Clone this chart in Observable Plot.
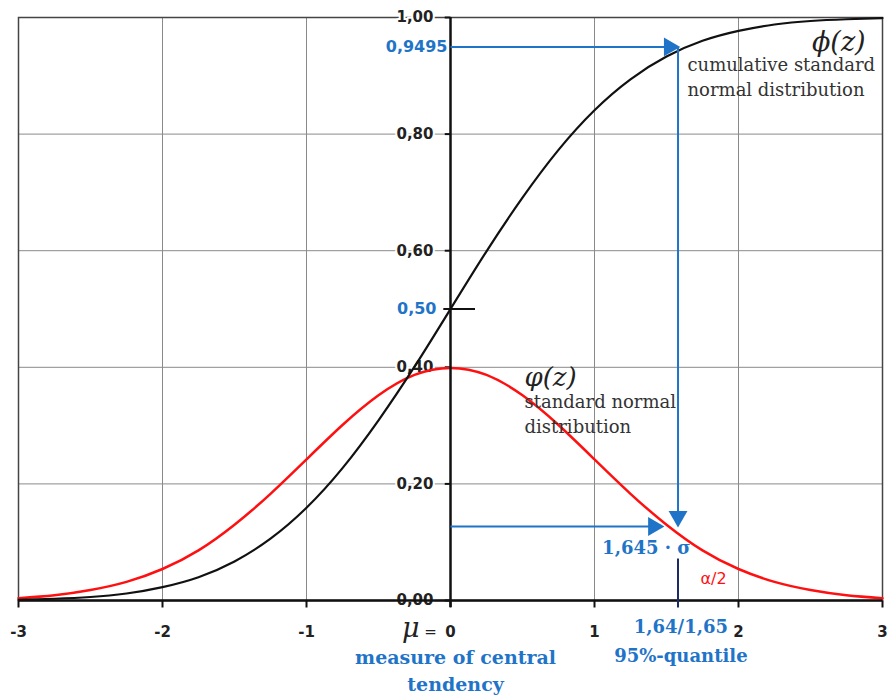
<!DOCTYPE html>
<html><head><meta charset="utf-8">
<script src="https://cdn.jsdelivr.net/npm/d3@7"></script>
<script src="https://cdn.jsdelivr.net/npm/@observablehq/plot@0.6"></script>
<style>body{margin:0;background:#fff}</style>
</head><body><div id="chart"></div>
<script>
// standard normal curves
const z   = [-3,-2.75,-2.5,-2.25,-2,-1.75,-1.5,-1.25,-1,-0.75,-0.5,-0.25,0,0.25,0.5,0.75,1,1.25,1.5,1.75,2,2.25,2.5,2.75,3];
const pdf = [0.004,0.009,0.018,0.032,0.054,0.086,0.130,0.183,0.242,0.301,0.352,0.387,0.399,0.387,0.352,0.301,0.242,0.183,0.130,0.086,0.054,0.032,0.018,0.009,0.004];
const cdf = [0.001,0.003,0.006,0.012,0.023,0.040,0.067,0.106,0.159,0.227,0.309,0.401,0.500,0.599,0.691,0.773,0.841,0.894,0.933,0.960,0.977,0.988,0.994,0.997,0.999];

const xTicks = [-3,-2,-1,0,1,2,3];
const xTickLabels = ["-3","-2","-1","0","1","2","3"];
const yTicks = [0,0.2,0.4,0.6,0.8,1.0];
const yTickLabels = ["0,00","0,20","0,40","0,60","0,80","1,00"];

// annotation values
const quantileZ = 1.58;       // where the quantile marker is drawn
const cdfAtQuantile = 0.9495;
const pdfAtQuantile = 0.127;
const median = 0.5;

const BLUE = "#1f74c8";
const pts = z.map((v,i)=>({z:v, pdf:pdf[i], cdf:cdf[i]}));
const serif = "'DejaVu Serif', serif";
const sans = "'DejaVu Sans', sans-serif";

const chart = Plot.plot({
  width: 889, height: 699,
  marginLeft: 18, marginRight: 7, marginTop: 17, marginBottom: 99,
  x: {domain: [-3, 3], axis: null},
  y: {domain: [0, 1], axis: null},
  style: {fontFamily: sans, background: "#fff"},
  marks: [
    Plot.gridX(xTicks, {stroke: "#8a8a8a", strokeOpacity: 1, strokeWidth: 1}),
    Plot.gridY(yTicks.slice(1), {stroke: "#8a8a8a", strokeOpacity: 1, strokeWidth: 1}),
    Plot.frame({stroke: "#444", strokeWidth: 1.5}),
    // y tick labels with white halo
    Plot.text(yTicks, {x: () => 0, y: d => d, text: (d,i) => yTickLabels[i], dx: -17, textAnchor: "end",
      lineAnchor: "middle", fontSize: 15, fontWeight: "bold", fill: "#222", stroke: "white", strokeWidth: 4}),
    Plot.link(yTicks, {x1: () => -0.04, x2: () => 0, y1: d => d, y2: d => d, stroke: "#111", strokeWidth: 2}),
    // curves
    Plot.line(pts, {x: "z", y: "pdf", stroke: "#ff1010", strokeWidth: 2.5, curve: "natural"}),
    Plot.line(pts, {x: "z", y: "cdf", stroke: "#111", strokeWidth: 2.2, curve: "natural"}),
    // axes lines
    Plot.ruleY([0], {stroke: "#111", strokeWidth: 2.5}),
    Plot.ruleX([0], {y1: -0.012, y2: 1, stroke: "#111", strokeWidth: 2.5}),
    Plot.link(xTicks, {x1: d => d, x2: d => d, y1: () => 0, y2: () => -0.012, stroke: "#111", strokeWidth: 2}),
    // x tick labels (0 is part of "μ = 0")
    Plot.text(xTicks, {x: d => d, y: () => 0, text: (d,i) => xTickLabels[i], dy: 36, lineAnchor: "bottom",
      fontSize: 15, fontWeight: "bold", fill: "#222"}),
    Plot.text(["μ"], {x: () => 0, y: () => 0, text: d => d, dx: -31, dy: 36, textAnchor: "end", lineAnchor: "bottom",
      fontFamily: serif, fontStyle: "italic", fontSize: 27, fill: "#222"}),
    Plot.text(["="], {x: () => 0, y: () => 0, text: d => d, dx: -20, dy: 36, lineAnchor: "bottom", fontSize: 15, fill: "#222"}),
    // blue annotation lines
    Plot.link([cdfAtQuantile], {x1: () => 0, x2: () => quantileZ - 0.04, y1: d => d, y2: d => d, stroke: BLUE, strokeWidth: 2}),
    Plot.dot([cdfAtQuantile], {x: () => quantileZ - 0.06, y: d => d, symbol: "triangle", r: 7, rotate: 90, fill: BLUE}),
    Plot.link([pdfAtQuantile], {x1: () => quantileZ, x2: () => quantileZ, y1: () => cdfAtQuantile, y2: () => pdfAtQuantile + 0.02, stroke: BLUE, strokeWidth: 2}),
    Plot.dot([pdfAtQuantile], {x: () => quantileZ, y: d => d + 0.017, symbol: "triangle", r: 7, rotate: 180, fill: BLUE}),
    Plot.link([pdfAtQuantile], {x1: () => 0, x2: () => quantileZ - 0.15, y1: d => d, y2: d => d, stroke: BLUE, strokeWidth: 2}),
    Plot.dot([pdfAtQuantile], {x: () => quantileZ - 0.17, y: d => d, symbol: "triangle", r: 7, rotate: 90, fill: BLUE}),
    Plot.link([quantileZ], {x1: d => d, x2: d => d, y1: () => 0.072, y2: () => -0.012, stroke: "#1c2a66", strokeWidth: 2}),
    // median tick
    Plot.link([median], {x1: () => -0.05, x2: () => 0.17, y1: d => d, y2: d => d, stroke: "#111", strokeWidth: 2}),
    // blue value labels
    Plot.text([cdfAtQuantile], {x: () => 0, y: d => d, text: () => "0,9495", dx: -3, textAnchor: "end", lineAnchor: "middle",
      fontSize: 16, fontWeight: "bold", fill: BLUE}),
    Plot.text([median], {x: () => 0, y: d => d, text: () => "0,50", dx: -14, textAnchor: "end", lineAnchor: "middle",
      fontSize: 16, fontWeight: "bold", fill: BLUE}),
    // curve labels
    Plot.text(["ϕ(z)"], {x: () => 2.51, y: () => 0.943, text: d => d, textAnchor: "start", lineAnchor: "bottom",
      fontFamily: serif, fontStyle: "italic", fontSize: 27, fill: "#222"}),
    Plot.text(["cumulative standard\nnormal distribution"], {x: () => 1.646, y: () => 0.943, text: d => d, textAnchor: "start",
      lineAnchor: "bottom", dy: 45, lineHeight: 1.35, fontFamily: serif, fontSize: 18, fill: "#333"}),
    Plot.text(["φ(z)"], {x: () => 0.514, y: () => 0.36, text: d => d, textAnchor: "start", lineAnchor: "bottom",
      dy: -5, fontFamily: serif, fontStyle: "italic", fontSize: 26, fill: "#222"}),
    Plot.text(["standard normal\ndistribution"], {x: () => 0.514, y: () => 0.36, text: d => d, textAnchor: "start",
      lineAnchor: "bottom", dy: 42, lineHeight: 1.35, fontFamily: serif, fontSize: 18, fill: "#333"}),
    Plot.text(["1,645 · σ"], {x: () => 1.667, y: () => 0.079, text: d => d, textAnchor: "end", lineAnchor: "bottom",
      fontFamily: serif, fontWeight: "bold", fontSize: 18, fill: BLUE}),
    Plot.text(["α/2"], {x: () => 1.736, y: () => 0.029, text: d => d, textAnchor: "start", lineAnchor: "bottom",
      fontSize: 16, fill: "#ff1010"}),
    Plot.text(["measure of central\ntendency"], {x: () => 0.035, y: () => 0, text: d => d, dy: 90, lineAnchor: "bottom",
      lineHeight: 1.42, fontFamily: serif, fontWeight: "bold", fontSize: 19, fill: BLUE}),
    Plot.text(["1,64/1,65\n95%-quantile"], {x: () => 1.6, y: () => 0, text: d => d, dy: 61, lineAnchor: "bottom",
      lineHeight: 1.6, fontFamily: serif, fontWeight: "bold", fontSize: 18, fill: BLUE})
  ]
});
document.getElementById("chart").appendChild(chart);
</script></body></html>
